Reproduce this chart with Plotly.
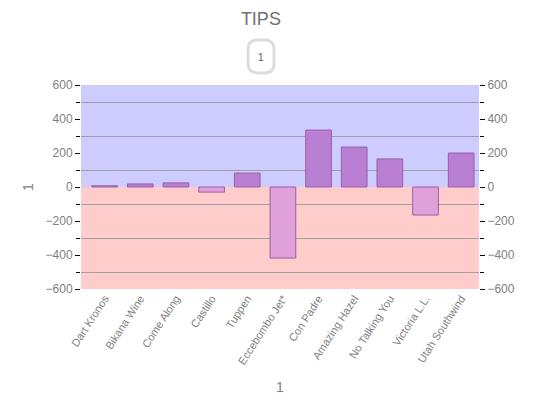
import plotly.graph_objects as go

categories = ['Dart Kronos', 'Bikana Wine', 'Come Along', 'Castillo', 'Tuppen', 'Eccebombo Jet*',
              'Con Padre', 'Amazing Hazel', 'No Talking You', 'Victoria L.L.', 'Utah Southwind']
values = [7, 18, 24, -30, 82, -418, 335, 235, 165, -165, 200]
y_ticks = [-600, -400, -200, 0, 200, 400, 600]

pos_color = '#b87fd3'
neg_color = '#e0a0da'
bar_colors = [pos_color if v >= 0 else neg_color for v in values]

fig = go.Figure()

fig.add_trace(go.Bar(
    x=categories, y=values, marker=dict(color=bar_colors, line=dict(color='#9a5fa8', width=1)),
    width=0.72, showlegend=False
))
# dummy trace so the right axis shows
fig.add_trace(go.Scatter(x=[categories[0]], y=[None], yaxis='y2', showlegend=False))

# background bands
fig.add_shape(type='rect', xref='paper', yref='y', x0=0, x1=1, y0=0, y1=600,
              fillcolor='#ccccff', line=dict(width=0), layer='below')
fig.add_shape(type='rect', xref='paper', yref='y', x0=0, x1=1, y0=-600, y1=0,
              fillcolor='#ffcccc', line=dict(width=0), layer='below')

# legend pill (rounded box)
x0, x1, y0, y1 = 0.420, 0.485, 1.059, 1.221
rx, ry = 0.025, 0.045
pill = (f'M {x0},{y0 + ry} L {x0},{y1 - ry} Q {x0},{y1} {x0 + rx},{y1} L {x1 - rx},{y1} '
        f'Q {x1},{y1} {x1},{y1 - ry} L {x1},{y0 + ry} Q {x1},{y0} {x1 - rx},{y0} '
        f'L {x0 + rx},{y0} Q {x0},{y0} {x0},{y0 + ry} Z')
fig.add_shape(type='path', xref='paper', yref='paper', path=pill,
              line=dict(color='#dddddd', width=3), fillcolor='white')
fig.add_annotation(x=(x0 + x1) / 2, y=(y0 + y1) / 2 + 0.03, xref='paper', yref='paper', text='1',
                   showarrow=False, font=dict(size=10, color='#555555'))

x_font = dict(family='Liberation Sans, Arial', size=11, color='#808080')
y_font = dict(family='Liberation Sans, Arial', size=12, color='#808080')
minor = dict(tick0=100, dtick=200, ticks='outside', ticklen=4, tickcolor='black',
             showgrid=True, gridcolor='#a0a0a0', gridwidth=1)

fig.update_layout(
    title=dict(text='TIPS', xref='paper', x=0.452, y=0.99, xanchor='center', yanchor='top',
               font=dict(family='Liberation Sans, Arial', size=18, color='#707070')),
    width=540, height=410,
    margin=dict(l=73, r=69, t=77, b=129),
    plot_bgcolor='white', paper_bgcolor='white',
    xaxis=dict(tickangle=-57, tickfont=x_font, showgrid=False, ticks='', automargin=False,
               title=dict(text='1', font=dict(size=14, color='#808080'), standoff=16)),
    yaxis=dict(range=[-600, 600], tickvals=y_ticks, tickfont=y_font, showgrid=False,
               zeroline=False, ticks='outside', ticklen=5, tickcolor='black', minor=minor,
               automargin=False,
               title=dict(text='1', font=dict(size=14, color='#808080'), standoff=8)),
    yaxis2=dict(range=[-600, 600], tickvals=y_ticks, tickfont=y_font, overlaying='y', side='right',
                showgrid=False, zeroline=False, ticks='outside', ticklen=5, tickcolor='black',
                automargin=False,
                minor=dict(tick0=100, dtick=200, ticks='outside', ticklen=4, tickcolor='black')),
    font=dict(family='Liberation Sans, Arial')
)

fig.write_html("out.html")
